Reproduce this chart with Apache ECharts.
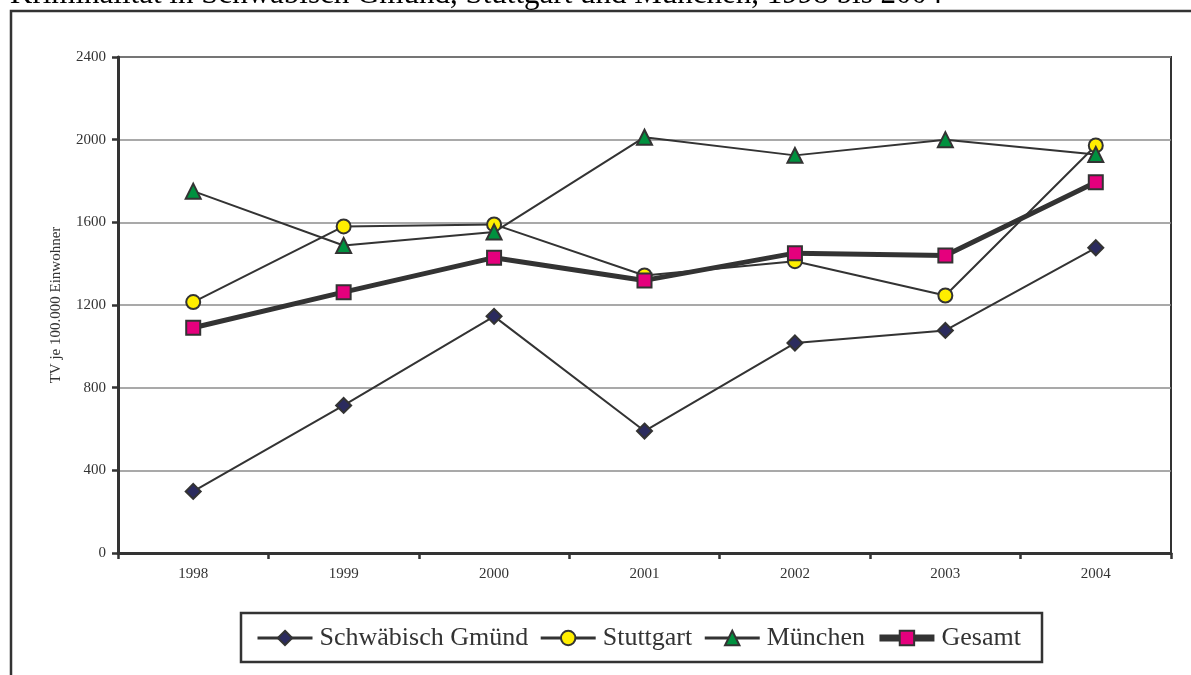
<!DOCTYPE html>
<html>
<head>
<meta charset="utf-8">
<script src="https://cdn.jsdelivr.net/npm/echarts@6/dist/echarts.min.js"></script>
<style>
  html, body { margin: 0; padding: 0; background: #fff; }
  #chart { width: 1191px; height: 675px; }
</style>
</head>
<body>
<div id="chart"></div>
<script>
const years = ["1998", "1999", "2000", "2001", "2002", "2003", "2004"];
const schwaebischGmuend = [298, 714, 1145, 590, 1016, 1077, 1477];
const stuttgart = [1214, 1580, 1590, 1343, 1412, 1246, 1972];
const muenchen = [1751, 1488, 1553, 2012, 1924, 2000, 1928];
const gesamt = [1090, 1262, 1429, 1319, 1451, 1440, 1794];
const yTicks = [0, 400, 800, 1200, 1600, 2000, 2400];

const serif = "'Liberation Serif', 'DejaVu Serif', serif";
const ink = "#333";

function cityLine(name, data, symbol, size, fill) {
  return {
    name: name,
    type: "line",
    data: data,
    symbol: symbol,
    symbolSize: size,
    lineStyle: { color: ink, width: 2 },
    itemStyle: { color: fill, borderColor: ink, borderWidth: 2 },
    emphasis: { disabled: true },
    animation: false,
  };
}

const chart = echarts.init(document.getElementById("chart"));

chart.setOption({
  backgroundColor: "#fff",
  graphic: [
    {
      type: "text",
      left: 10,
      top: -21,
      style: {
        text: "Kriminalität in Schwäbisch Gmünd, Stuttgart und München, 1998 bis 2004",
        font: "31px " + serif,
        fill: "#000",
      },
    },
    {
      type: "rect",
      shape: { x: 11, y: 11, width: 1300, height: 800 },
      style: { fill: "none", stroke: ink, lineWidth: 2.5 },
      silent: true,
      z: -1,
    },
    {
      type: "rect",
      shape: { x: 241, y: 613, width: 801, height: 49 },
      style: { fill: "#fff", stroke: ink, lineWidth: 2.5 },
      silent: true,
      z: -1,
    },
  ],
  legend: {
    left: 256,
    top: 625,
    padding: 0,
    itemWidth: 55,
    itemHeight: 18,
    itemGap: 11,
    textStyle: { fontFamily: serif, fontSize: 26, color: ink, padding: [0, 0, 0, 2] },
    data: [
      { name: "Schwäbisch Gmünd", lineStyle: { width: 3 } },
      { name: "Stuttgart", lineStyle: { width: 3 } },
      { name: "München", lineStyle: { width: 3 } },
      { name: "Gesamt", lineStyle: { width: 7 } },
    ],
  },
  grid: {
    left: 118,
    top: 57,
    width: 1053,
    height: 496,
    show: true,
    borderColor: ink,
    borderWidth: 2,
    containLabel: false,
  },
  xAxis: {
    type: "category",
    data: years,
    boundaryGap: true,
    axisLine: { lineStyle: { color: ink, width: 3 } },
    axisTick: { show: true, length: 6, lineStyle: { color: ink, width: 2.5 } },
    axisLabel: { margin: 14, fontFamily: serif, fontSize: 15, color: ink },
  },
  yAxis: {
    type: "value",
    min: yTicks[0],
    max: yTicks[yTicks.length - 1],
    interval: 400,
    name: "TV je 100.000 Einwohner",
    nameLocation: "middle",
    nameGap: 54,
    nameTextStyle: { fontFamily: serif, fontSize: 15, color: ink },
    axisLine: { show: true, lineStyle: { color: ink, width: 3 } },
    axisTick: { show: true, length: 6, lineStyle: { color: ink, width: 2.5 } },
    axisLabel: {
      margin: 12,
      fontFamily: serif,
      fontSize: 15,
      color: ink,
      formatter: (v) => String(v),
    },
    splitLine: { lineStyle: { color: "#8c8c8c", width: 1.5 } },
  },
  series: [
    cityLine("Schwäbisch Gmünd", schwaebischGmuend, "diamond", 15, "#2b2b5e"),
    cityLine("Stuttgart", stuttgart, "circle", 14, "#ffee00"),
    cityLine("München", muenchen, "triangle", 15, "#00913f"),
    {
      name: "Gesamt",
      type: "line",
      data: gesamt,
      symbol: "rect",
      symbolSize: 14,
      lineStyle: { color: ink, width: 5 },
      itemStyle: { color: "#e5007d", borderColor: ink, borderWidth: 2 },
      emphasis: { disabled: true },
      animation: false,
      z: 3,
    },
  ],
});
</script>
</body>
</html>
